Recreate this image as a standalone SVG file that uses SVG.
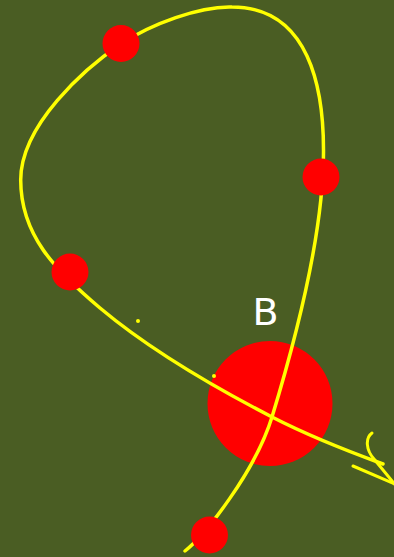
<svg xmlns="http://www.w3.org/2000/svg" width="394" height="557" viewBox="0 0 394 557">
<style>
.edge{fill:none;stroke:#ffff00;stroke-width:3.5;stroke-linecap:round;stroke-linejoin:round}
.arrow{fill:none;stroke:#ffff00;stroke-width:3;stroke-linecap:round;stroke-linejoin:round}
.node{fill:#ff0000}
.dot{fill:#ffff00}
.label{fill:#ffffff;font-family:"DejaVu Sans",sans-serif;font-size:38px}
</style>
<rect width="394" height="557" fill="#4a5d23"/>
<g id="nodeB">
<circle class="node" cx="270" cy="403.5" r="62.5"/>
<text class="label" x="265.5" y="325" text-anchor="middle">B</text>
</g>
<g id="connectors">
<path class="edge" d="M185,551 C205,535 255,472 272,417 C290,358 324,240 323.5,150 C323.5,90 310,7 232,7 C200,6 151,24 121,44 C85,68 20.7,125 20.7,180 C20.7,235 55,270 100,308 C150,350 210,385 272,417 C305,434 350,452 383,464"/>
<path class="arrow" d="M372,433 C365,438 366,450 374,459 L397,487"/>
<path class="arrow" d="M353,466 L397,485"/>
</g>
<g id="node1"><circle class="node" cx="121" cy="43.5" r="18.5"/></g>
<g id="node2"><circle class="node" cx="321" cy="177" r="18.5"/></g>
<g id="node3"><circle class="node" cx="70" cy="272" r="18.5"/></g>
<g id="node4"><circle class="node" cx="209.5" cy="535" r="18.5"/></g>
<g id="dots">
<circle class="dot" cx="138" cy="321" r="2"/>
<circle class="dot" cx="214" cy="376" r="2"/>
</g>
</svg>
